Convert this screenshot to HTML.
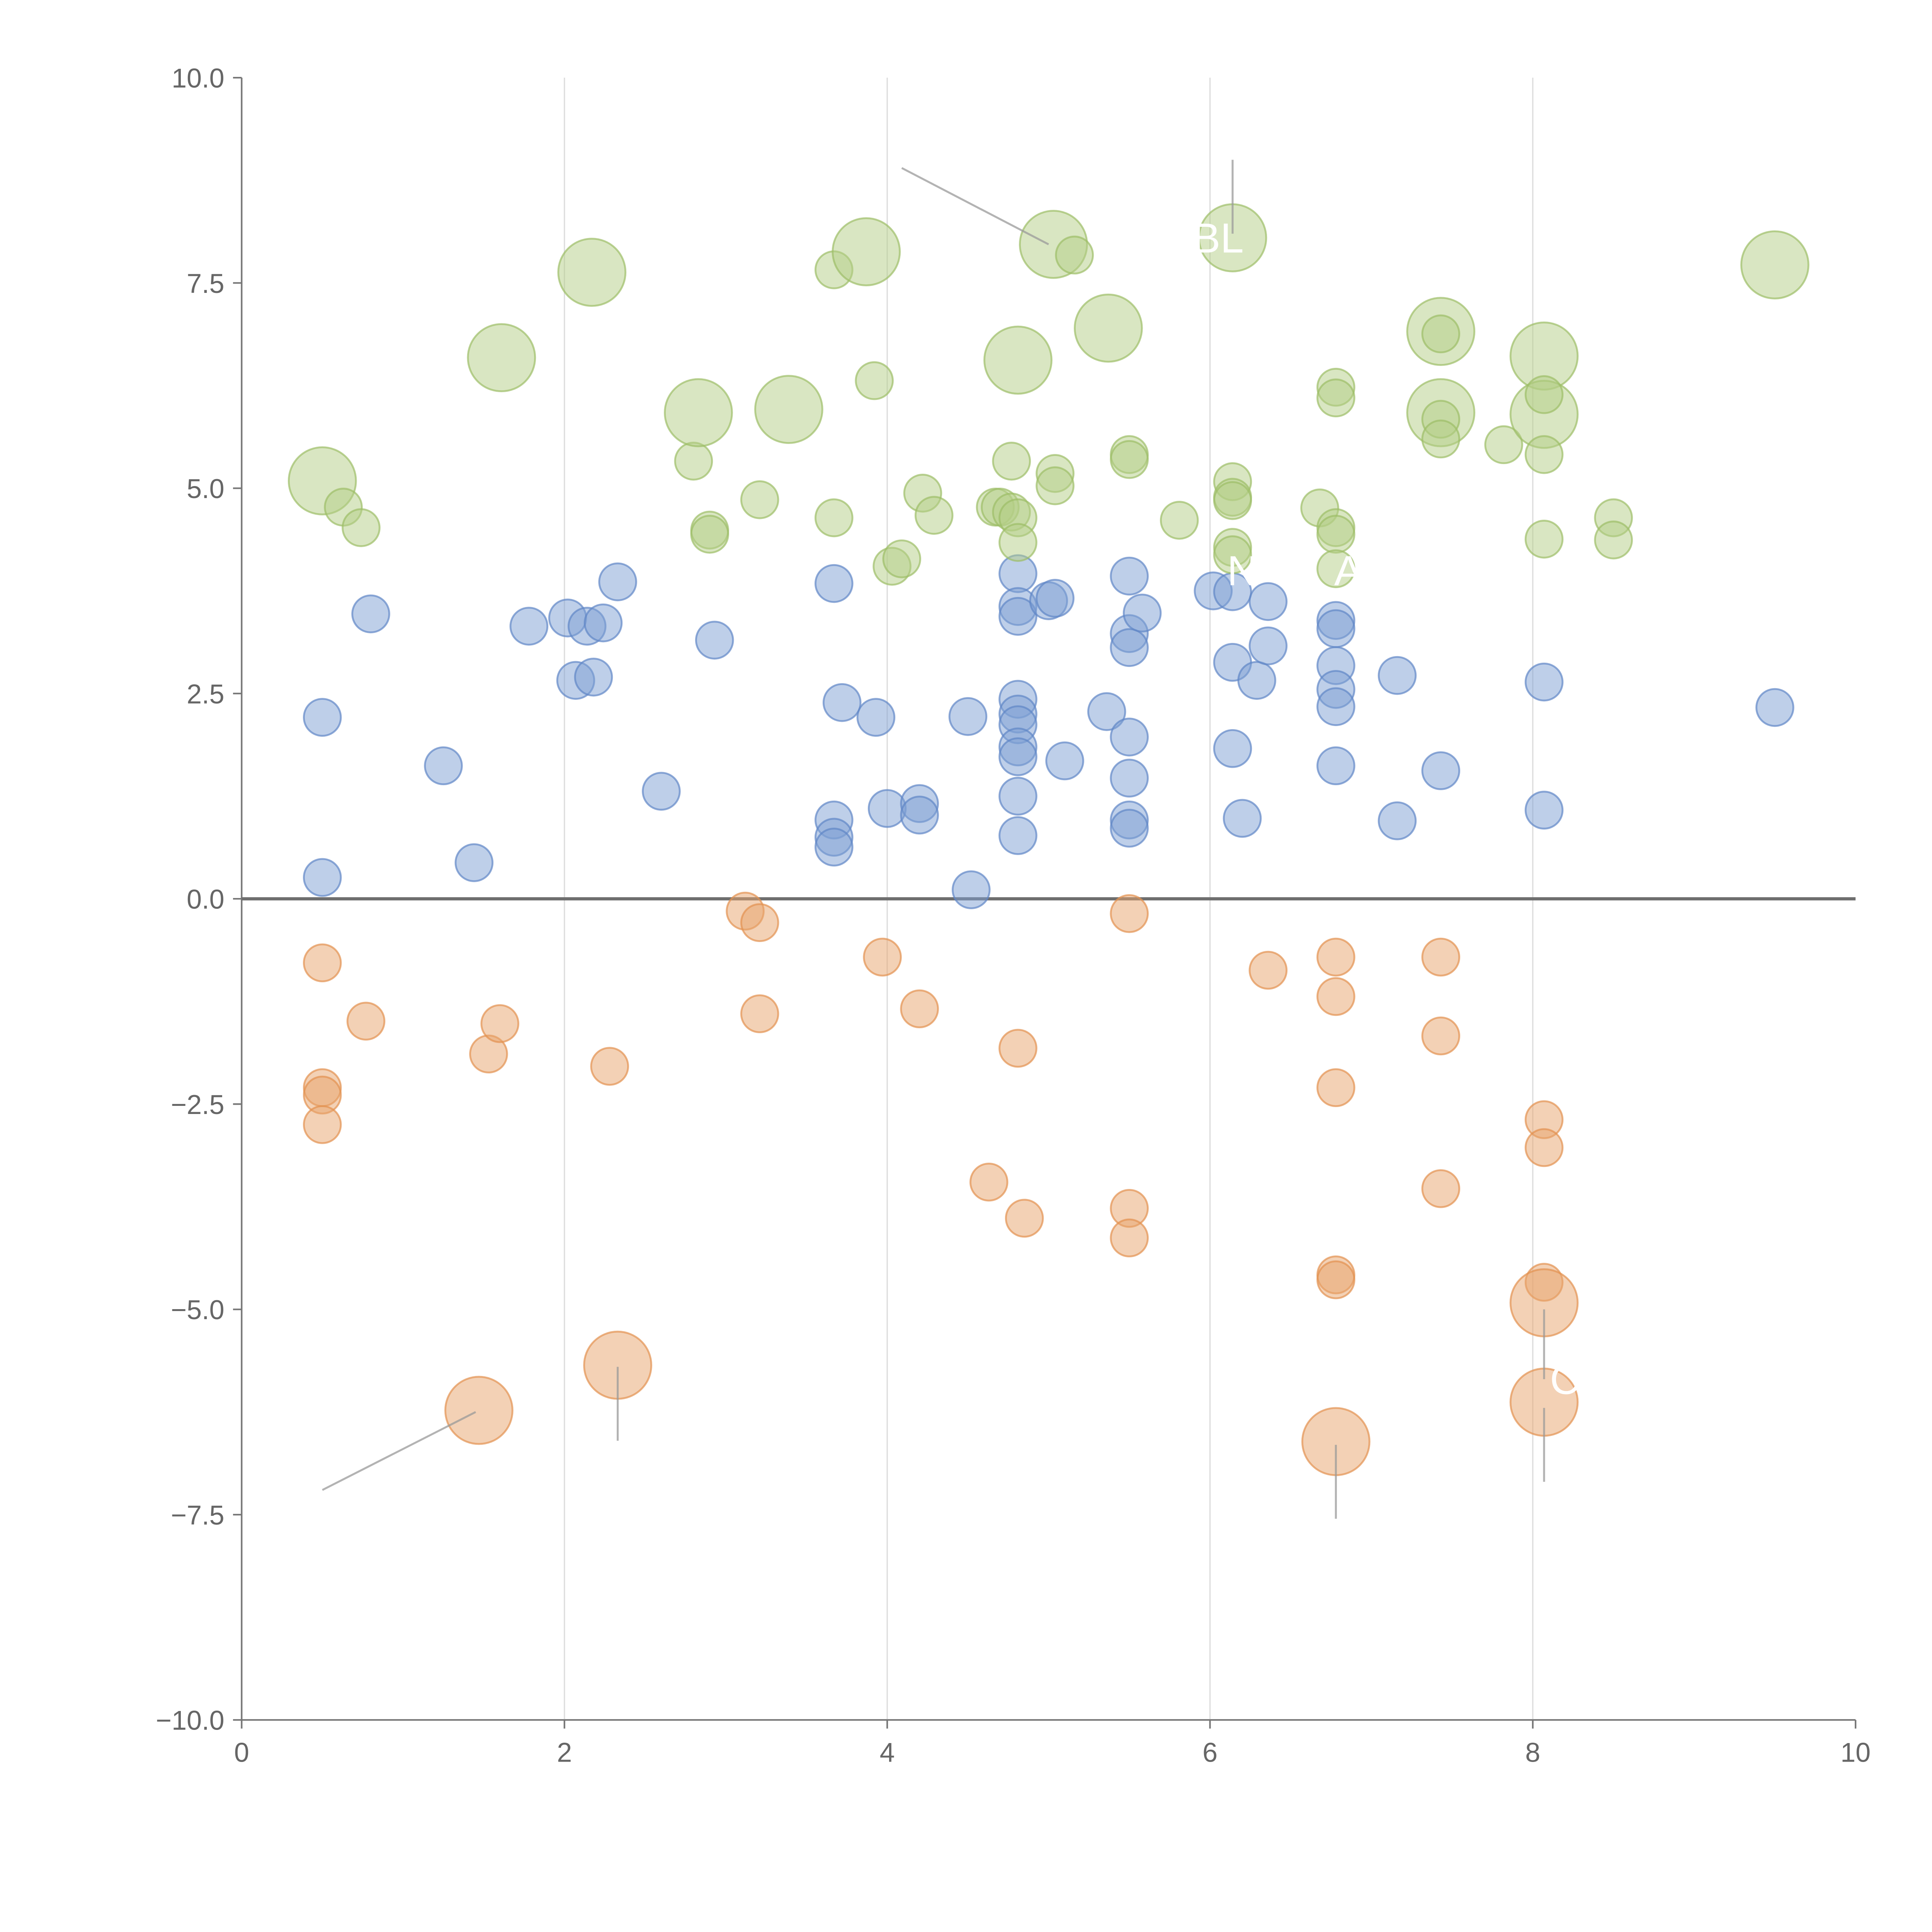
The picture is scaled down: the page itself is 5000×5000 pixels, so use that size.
<!DOCTYPE html>
<html><head><meta charset="utf-8"><style>
html,body{margin:0;padding:0;background:#fff;}
svg{display:block;}
text{font-family:"Liberation Sans",sans-serif;}
</style></head>
<body>
<svg id="chart" width="5000" height="5000" viewBox="0 0 1567 1567" xmlns="http://www.w3.org/2000/svg">
<g id="grid"></g>
<g id="axes"></g>
<g id="marks"></g>
<g id="annot"></g>
</svg>
<script>
const xTicks=[0,2,4,6,8,10];
const yTicks=[-10,-7.5,-5,-2.5,0,2.5,5,7.5,10];
const yTickLabels=["\u221210.0","\u22127.5","\u22125.0","\u22122.5","0.0","2.5","5.0","7.5","10.0"];

const greenX=[0.50,0.63,0.74,1.61,2.17,2.80,2.83,2.90,2.90,3.21,3.39,3.67,3.67,3.87,3.92,4.03,4.09,4.22,4.29,4.67,4.70,4.77,4.77,4.81,4.81,4.81,5.03,5.04,5.04,5.16,5.37,5.50,5.50,5.81,6.14,6.14,6.14,6.14,6.14,6.14,6.68,6.78,6.78,6.78,6.78,6.78,7.43,7.43,7.43,7.43,7.43,7.82,8.07,8.07,8.07,8.07,8.07,8.50,8.50,9.50];
const greenY=[5.09,4.77,4.52,6.59,7.63,5.33,5.92,4.49,4.44,4.86,5.96,7.66,4.64,7.88,6.31,4.05,4.14,4.94,4.67,4.77,4.77,5.33,4.71,6.56,4.64,4.34,7.97,5.18,5.03,7.84,6.95,5.41,5.35,4.61,8.05,5.08,4.89,4.85,4.28,4.19,4.76,6.23,6.10,4.52,4.44,4.02,6.91,6.88,5.92,5.84,5.60,5.53,6.61,5.90,6.14,5.41,4.38,4.64,4.37,7.72];
const greenS=[3.3,1,1,3.3,3.3,1,3.3,1,1,1,3.3,1,1,3.3,1,1,1,1,1,1,1,1,1,3.3,1,1,3.3,1,1,1,3.3,1,1,1,3.3,1,1,1,1,1,1,1,1,1,1,1,3.3,1,3.3,1,1,1,3.3,3.3,1,1,1,1,1,3.3];

const blueX=[0.50,0.50,0.80,1.25,1.44,1.78,2.02,2.07,2.14,2.18,2.24,2.33,2.60,2.93,3.67,3.67,3.67,3.67,3.72,3.93,4.00,4.20,4.20,4.50,4.52,4.81,4.81,4.81,4.81,4.81,4.81,4.81,4.81,4.81,4.81,5.00,5.04,5.10,5.36,5.50,5.50,5.50,5.50,5.50,5.50,5.50,5.58,6.02,6.14,6.14,6.14,6.20,6.29,6.36,6.36,6.78,6.78,6.78,6.78,6.78,6.78,7.16,7.16,7.43,8.07,8.07,9.50];
const blueY=[2.21,0.26,3.47,1.62,0.44,3.32,3.42,2.66,3.32,2.70,3.36,3.86,1.31,3.15,3.84,0.96,0.75,0.63,2.39,2.21,1.10,1.16,1.02,2.22,0.11,3.96,3.56,3.44,2.43,2.25,2.12,1.85,1.73,1.25,0.77,3.63,3.66,1.68,2.28,3.93,3.23,3.06,1.97,1.47,0.96,0.86,3.48,3.75,3.74,2.88,1.83,0.98,2.66,3.62,3.08,3.39,3.29,2.84,2.55,2.34,1.62,2.72,0.95,1.56,2.64,1.08,2.33];

const orangeX=[0.50,0.50,0.50,0.50,0.77,1.53,1.60,1.47,2.28,2.33,3.12,3.21,3.21,3.97,4.20,4.63,4.81,4.85,5.50,5.50,5.50,6.36,6.78,6.78,6.78,6.78,6.78,6.78,7.43,7.43,7.43,8.07,8.07,8.07,8.07,8.07];
const orangeY=[-0.78,-2.30,-2.39,-2.75,-1.49,-1.89,-1.52,-6.23,-2.04,-5.68,-0.15,-0.29,-1.40,-0.71,-1.34,-3.45,-1.82,-3.89,-0.18,-3.77,-4.13,-0.87,-0.71,-1.19,-2.30,-4.58,-4.64,-6.61,-0.71,-1.67,-3.53,-2.69,-3.03,-4.67,-4.92,-6.13];
const orangeS=[1,1,1,1,1,1,1,3.3,1,3.3,1,1,1,1,1,1,1,1,1,1,1,1,1,1,1,1,1,3.3,1,1,1,1,1,1,3.3,3.3];

const NS="http://www.w3.org/2000/svg";
const X0=196,X1=1505,YT=63,YB=1395;
function sx(v){return X0+(v-0)/(10-0)*(X1-X0);}
function sy(v){return YB-(v+10)/20*(YB-YT);}
function rad(s){return 15*Math.sqrt(s);}
function mk(tag,attrs,parent){const e=document.createElementNS(NS,tag);for(const k in attrs)e.setAttribute(k,attrs[k]);parent.appendChild(e);return e;}

const grid=document.getElementById('grid'),axes=document.getElementById('axes'),marks=document.getElementById('marks'),annot=document.getElementById('annot');

xTicks.forEach(t=>{
  if(t>0&&t<10){
    const g=mk('line',{x1:sx(t),x2:sx(t),y1:YT,y2:YB,stroke:'#dcdcdc','stroke-width':1},grid);
    
    
  }
  const tk=mk('line',{x1:sx(t),x2:sx(t),y1:YB,y2:YB+7,stroke:'#777','stroke-width':1.3},axes);
  
  
  const tl=mk('text',{x:sx(t),y:YB+34,'text-anchor':'middle','font-size':22,fill:'#666'},axes);
  tl.textContent=String(t);
  
  
});
yTicks.forEach((t,i)=>{
  const tk=mk('line',{x1:X0-7,x2:X0,y1:sy(t),y2:sy(t),stroke:'#777','stroke-width':1.3},axes);
  
  
  const tl=mk('text',{x:X0-14,y:sy(t)+8,'text-anchor':'end','font-size':22,fill:'#666'},axes);
  tl.textContent=yTickLabels[i];
  
  
});
const ya=mk('line',{x1:X0,x2:X0,y1:YT,y2:YB,stroke:'#777','stroke-width':1.3},axes);


const xa=mk('line',{x1:X0,x2:X1,y1:YB,y2:YB,stroke:'#777','stroke-width':1.3},axes);


const zl=mk('line',{x1:X0,x2:X1,y1:sy(0),y2:sy(0),stroke:'#6e6e6e','stroke-width':2.6},axes);



function series(xs,ys,ss,fill,stroke,name){
  xs.forEach((x,i)=>{
    const c=mk('circle',{cx:sx(x),cy:sy(ys[i]),r:rad(ss?ss[i]:1),fill:fill,'fill-opacity':0.5,stroke:stroke,'stroke-opacity':0.7,'stroke-width':1.5},marks);
    
    
  });
}
series(orangeX,orangeY,orangeS,'#e8a46c','#e39150','orange-bubble');
series(blueX,blueY,null,'#7d9fd3','#5f86c6','blue-bubble');
series(greenX,greenY,greenS,'#b3cd86','#9cbd67','green-bubble');

const leaders=[[4.09,8.9,5.0,7.97],[6.14,9.0,6.14,8.1],[0.5,-7.2,1.45,-6.25],[2.33,-5.7,2.33,-6.6],[6.78,-6.65,6.78,-7.55],[8.07,-5.0,8.07,-5.85],[8.07,-6.2,8.07,-7.1]];
leaders.forEach(l=>{
  const e=mk('line',{x1:sx(l[0]),y1:sy(l[1]),x2:sx(l[2]),y2:sy(l[3]),stroke:'#999','stroke-opacity':0.75,'stroke-width':1.6},annot);
  
  
});
const labels=[["BL",6.05,8.05],["N",6.2,4.0],["AR",6.95,4.0],["C",8.2,-5.85]];
labels.forEach(l=>{
  const t=mk('text',{x:sx(l[1]),y:sy(l[2])+12,'text-anchor':'middle','font-size':34,fill:'#fff'},annot);
  t.textContent=l[0];
  
  
});
</script>
</body></html>
